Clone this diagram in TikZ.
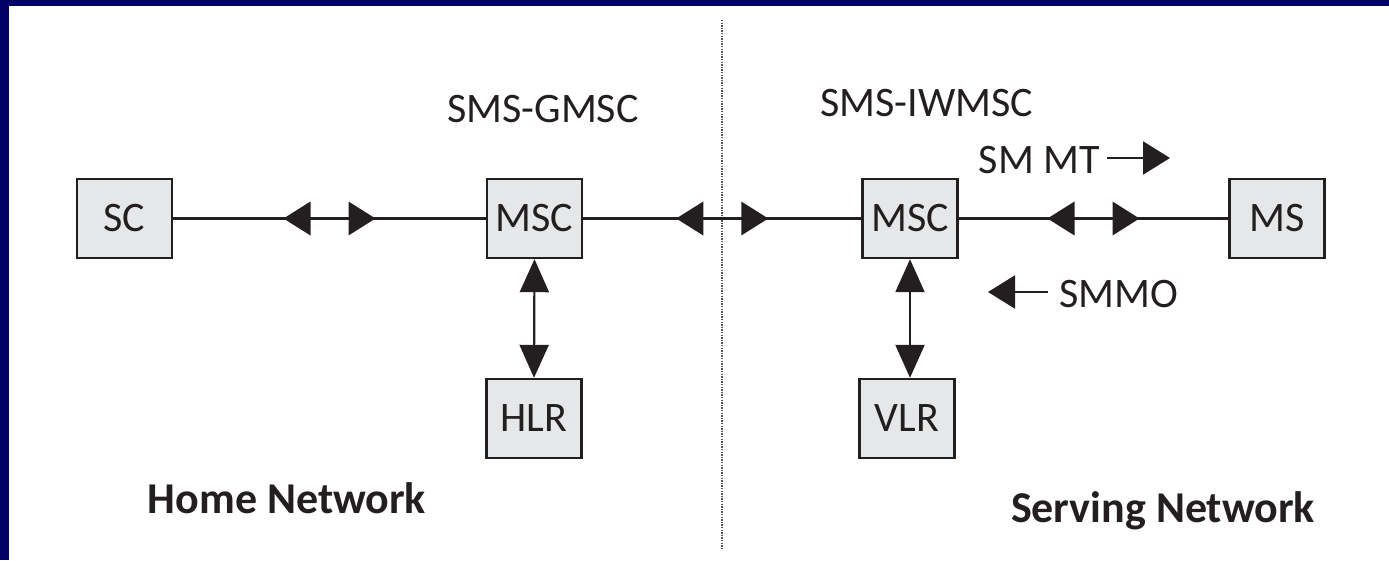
\documentclass[tikz,border=0pt]{standalone}
\usepackage{fontspec}
\setmainfont{Carlito}
\usetikzlibrary{arrows.meta,decorations.markings}
\definecolor{navy}{RGB}{0,0,102}
\definecolor{ink}{RGB}{35,31,32}
\definecolor{boxgray}{RGB}{230,231,232}
\definecolor{dotgray}{RGB}{85,85,85}
\begin{document}
\begin{tikzpicture}[x=1pt,y=-1pt,
  elem/.style={draw=ink, fill=boxgray, line width=2.4pt, minimum width=95pt,
    minimum height=79pt, inner sep=0pt, font=\fontsize{42}{48}\selectfont, text=ink},
  tag/.style={font=\fontsize{42}{48}\selectfont, text=ink, inner sep=0pt},
  netname/.style={font=\bfseries\fontsize{44}{50}\selectfont, text=ink, inner sep=0pt},
  link/.style={draw=ink, line width=2.2pt},
  divider/.style={draw=dotgray, line width=2pt, dash pattern=on 1.4pt off 1.2pt},
  midpair/.style={postaction={decorate}, decoration={markings,
    mark=at position 0.5 with {
      \fill[ink] (-46pt,0pt) -- (-19pt,17pt) -- (-19pt,-17pt) -- cycle;
      \fill[ink] (46pt,0pt) -- (19pt,17pt) -- (19pt,-17pt) -- cycle;}}},
  dbl/.style={{Triangle[length=33pt,width=29pt]}-{Triangle[length=33pt,width=29pt]}},
  oneway/.style={-{Triangle[length=27pt,width=33pt]}},
]
% page and frame
\useasboundingbox (0,0) rectangle (1389,560);
\fill[white] (0,0) rectangle (1389,560);
\fill[navy] (0,0) rectangle (1389,6);
\fill[navy] (0,0) rectangle (9,560);

% boundary between the two networks
\coordinate (dtop) at (722,20);
\coordinate (dbot) at (722,548);
\draw[divider] (dtop) -- (dbot);

% network elements
\node[elem] (sc)   at (124.5,218.5) {SC};
\node[elem] (gmsc) at (534.5,218.5) {MSC};
\node[elem] (vmsc) at (910,218.5)   {MSC};
\node[elem] (ms)   at (1277,218.5)  {MS};
\node[elem] (hlr)  at (534,418.5)   {HLR};
\node[elem] (vlr)  at (907,418.5)   {VLR};

% links
\draw[link, midpair] (sc) -- (gmsc);
\draw[link, midpair] (gmsc) -- (vmsc);
\draw[link, midpair] (vmsc) -- (ms);
\draw[link, dbl] (gmsc.south) -- (hlr.north);
\draw[link, dbl] (vmsc.south) -- (vmsc.south |- vlr.north);

% element roles
\node[tag, anchor=base] (gmsclbl) at (543,122) {SMS-GMSC};
\node[tag, anchor=base] (iwlbl)   at (927,116) {SMS-IWMSC};

% message directions
\node[tag, anchor=base east] (mtlbl) at (1100,173) {SM MT};
\coordinate (mtend) at (1170,158);
\draw[link, oneway] ([xshift=7pt]mtlbl.east |- mtend) -- (mtend);

\node[tag, anchor=base west] (molbl) at (1059,307) {SMMO};
\coordinate (moend) at (988,292);
\draw[link, oneway] ([xshift=-11pt]molbl.west |- moend) -- (moend);

% network names
\node[netname, anchor=base] (home)    at (287,513)  {Home Network};
\node[netname, anchor=base] (serving) at (1163,522) {Serving Network};
\end{tikzpicture}
\end{document}
